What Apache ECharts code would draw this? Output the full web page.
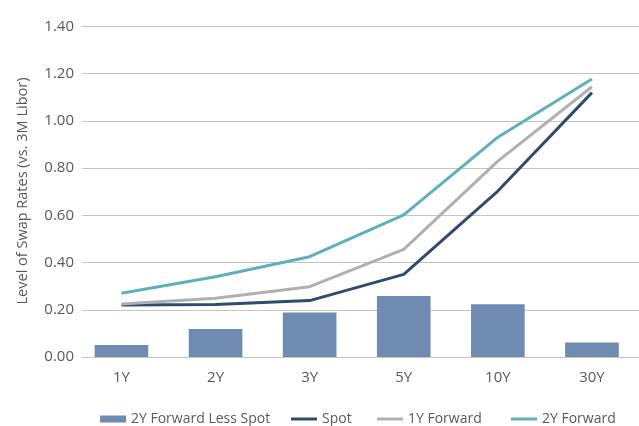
<!DOCTYPE html>
<html>
<head>
<meta charset="utf-8">
<script src="https://cdn.jsdelivr.net/npm/echarts@6/dist/echarts.min.js"></script>
<style>html,body{margin:0;padding:0;background:#fff}#c{width:639px;height:426px}</style>
</head>
<body>
<div id="c"></div>
<script>
var categories = ['1Y', '2Y', '3Y', '5Y', '10Y', '30Y'];
var yTicks = [0, 0.2, 0.4, 0.6, 0.8, 1.0, 1.2, 1.4];
var diff = [0.051, 0.119, 0.188, 0.258, 0.223, 0.061];
var spot = [0.220, 0.222, 0.239, 0.350, 0.703, 1.120];
var fwd1 = [0.225, 0.249, 0.298, 0.456, 0.830, 1.145];
var fwd2 = [0.270, 0.340, 0.425, 0.602, 0.931, 1.178];

var txt = '#595959';
var font = 'Open Sans';
var chart = echarts.init(document.getElementById('c'), null, {renderer: 'canvas'});
function leg(name, left, isBar) {
  return {
    data: [name], left: left, top: 407, orient: 'horizontal',
    itemWidth: 26, itemHeight: isBar ? 7 : 3, icon: 'rect',
    textStyle: {color: txt, fontSize: 14, fontFamily: font},
    selectedMode: false
  };
}
chart.setOption({
  animation: false,
  grid: [
    {left: 82, right: 0, top: 26.5, bottom: 69},
    {left: 74.4, width: 567.6, top: 26.5, bottom: 69}
  ],
  xAxis: [
    {gridIndex: 0, type: 'category', data: categories, show: false},
    {gridIndex: 1, type: 'category', data: categories,
     axisLine: {show: false}, axisTick: {show: false},
     axisLabel: {color: txt, fontSize: 15, fontFamily: font, margin: 13}}
  ],
  yAxis: [
    {gridIndex: 0, type: 'value', min: 0, max: 1.4, interval: 0.2,
     axisLine: {show: false}, axisTick: {show: false},
     axisLabel: {color: txt, fontSize: 15, fontFamily: font, margin: 8,
       formatter: function (v) { return v.toFixed(2); }},
     splitLine: {lineStyle: {color: '#c4c4c4', width: 1}}},
    {gridIndex: 1, type: 'value', min: 0, max: 1.4, interval: 0.2, show: false,
     splitLine: {show: false}}
  ],
  legend: [
    leg('2Y Forward Less Spot', 95, true),
    leg('Spot', 286, false),
    leg('1Y Forward', 372, false),
    leg('2Y Forward', 506, false)
  ],
  graphic: [{
    type: 'text', x: 23, y: 191, rotation: Math.PI / 2,
    style: {text: 'Level of Swap Rates (vs. 3M Libor)', fill: txt, fontSize: 14.5,
      fontFamily: font, align: 'center', verticalAlign: 'middle'}
  }],
  series: [
    {name: '2Y Forward Less Spot', type: 'bar', xAxisIndex: 1, yAxisIndex: 1,
     data: diff, barWidth: '57%', itemStyle: {color: '#6f8bb1'}},
    {name: 'Spot', type: 'line', xAxisIndex: 1, yAxisIndex: 1, data: spot,
     symbol: 'none', lineStyle: {color: '#2f4b6e', width: 3}, itemStyle: {color: '#2f4b6e'}},
    {name: '1Y Forward', type: 'line', xAxisIndex: 1, yAxisIndex: 1, data: fwd1,
     symbol: 'none', lineStyle: {color: '#b0b0b0', width: 3}, itemStyle: {color: '#b0b0b0'}},
    {name: '2Y Forward', type: 'line', xAxisIndex: 1, yAxisIndex: 1, data: fwd2,
     symbol: 'none', lineStyle: {color: '#5fb0bd', width: 3}, itemStyle: {color: '#5fb0bd'}}
  ]
});
</script>
</body>
</html>
